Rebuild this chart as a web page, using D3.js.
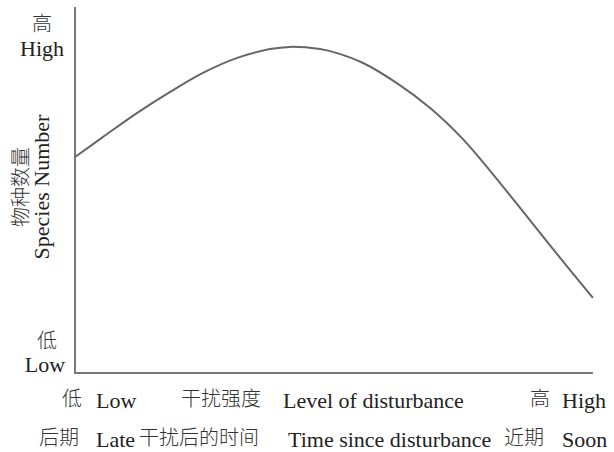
<!DOCTYPE html>
<html>
<head>
    <meta charset="utf-8">
    <title>species vs disturbance</title>
    <script type="text/javascript" src="https://d3js.org/d3.v7.min.js"></script>
    <style>
      body{margin:0;background:#fff;}
      .en{font-family:"Liberation Serif","DejaVu Serif",serif;font-size:22px;fill:#222;}
      .zh{font-family:"Noto Sans CJK SC",sans-serif;font-size:20px;fill:#333;font-weight:300;}
    </style>
</head>
<body>
<script type="text/javascript">

    // level of disturbance (0-100) and species number (0-100)
    var disturbance = [0, 5.4, 11.9, 18.3, 24.6, 31.2, 37.5, 41.3, 47.1, 50.4, 55.4, 61.9, 68.3, 74.6, 79.2, 85.6, 91.9, 99.6]
    var species = [59.0, 64.5, 71.0, 76.8, 82.0, 86.1, 88.5, 89.1, 88.5, 87.4, 84.7, 79.2, 72.4, 63.9, 56.3, 45.1, 33.9, 20.5]

    var yTickZh = ["低", "高"]
    var yTickEn = ["Low", "High"]
    var yTitleZh = "物种数量"
    var yTitleEn = "Species Number"

    var width = 614
    var height = 452
    var svg = d3.select("body").append("svg").attr("width", width).attr("height", height)

    var x = d3.scaleLinear().domain([0, 100]).range([75, 595])
    var y = d3.scaleLinear().domain([0, 100]).range([373, 7])

    drawAxes()
    drawCurve()
    drawLabels()

    function drawAxes(){
        svg.append("line")
            .attr("x1", x(0)).attr("x2", x(0))
            .attr("y1", y(0)).attr("y2", y(100))
            .attr("stroke", "#777").attr("stroke-width", 2)
        svg.append("line")
            .attr("x1", x(0) - 1).attr("x2", x(99.6))
            .attr("y1", y(0)).attr("y2", y(0))
            .attr("stroke", "#777").attr("stroke-width", 2)
    }

    function drawCurve(){
        var pts = disturbance.map(function(d, i){ return [d, species[i]] })
        var line = d3.line()
            .x(function(d){ return x(d[0]) })
            .y(function(d){ return y(d[1]) })
            .curve(d3.curveCatmullRom.alpha(0.5))
        svg.append("path")
            .datum(pts)
            .attr("d", line)
            .attr("fill", "none")
            .attr("stroke", "#666")
            .attr("stroke-width", 2)
    }

    function txt(cls, s, px, py, anchor){
        return svg.append("text").attr("class", cls)
            .attr("x", px).attr("y", py)
            .attr("text-anchor", anchor || "start")
            .text(s)
    }

    function drawLabels(){
        // y end labels
        txt("zh", yTickZh[1], 42, 31, "middle")
        txt("en", yTickEn[1], 42, 56, "middle")
        txt("zh", yTickZh[0], 47, 348, "middle")
        txt("en", yTickEn[0], 45, 372, "middle")

        // y title, rotated
        svg.append("text").attr("class", "zh")
            .attr("transform", "translate(28,187) rotate(-90)")
            .attr("text-anchor", "middle")
            .text(yTitleZh)
        svg.append("text").attr("class", "en")
            .attr("transform", "translate(49,187) rotate(-90)")
            .attr("text-anchor", "middle")
            .text(yTitleEn)

        // x labels, row 1
        txt("zh", "低", 62, 406)
        txt("en", "Low", 96, 408)
        txt("zh", "干扰强度", 181, 406)
        txt("en", "Level of disturbance", 283, 408)
        txt("zh", "高", 530, 406)
        txt("en", "High", 562, 408)

        // x labels, row 2
        txt("zh", "后期", 39, 445)
        txt("en", "Late", 96, 447)
        txt("zh", "干扰后的时间", 139, 445)
        txt("en", "Time since disturbance", 288, 447)
        txt("zh", "近期", 504, 445)
        txt("en", "Soon", 562, 447)
    }

</script>
</body>
</html>
